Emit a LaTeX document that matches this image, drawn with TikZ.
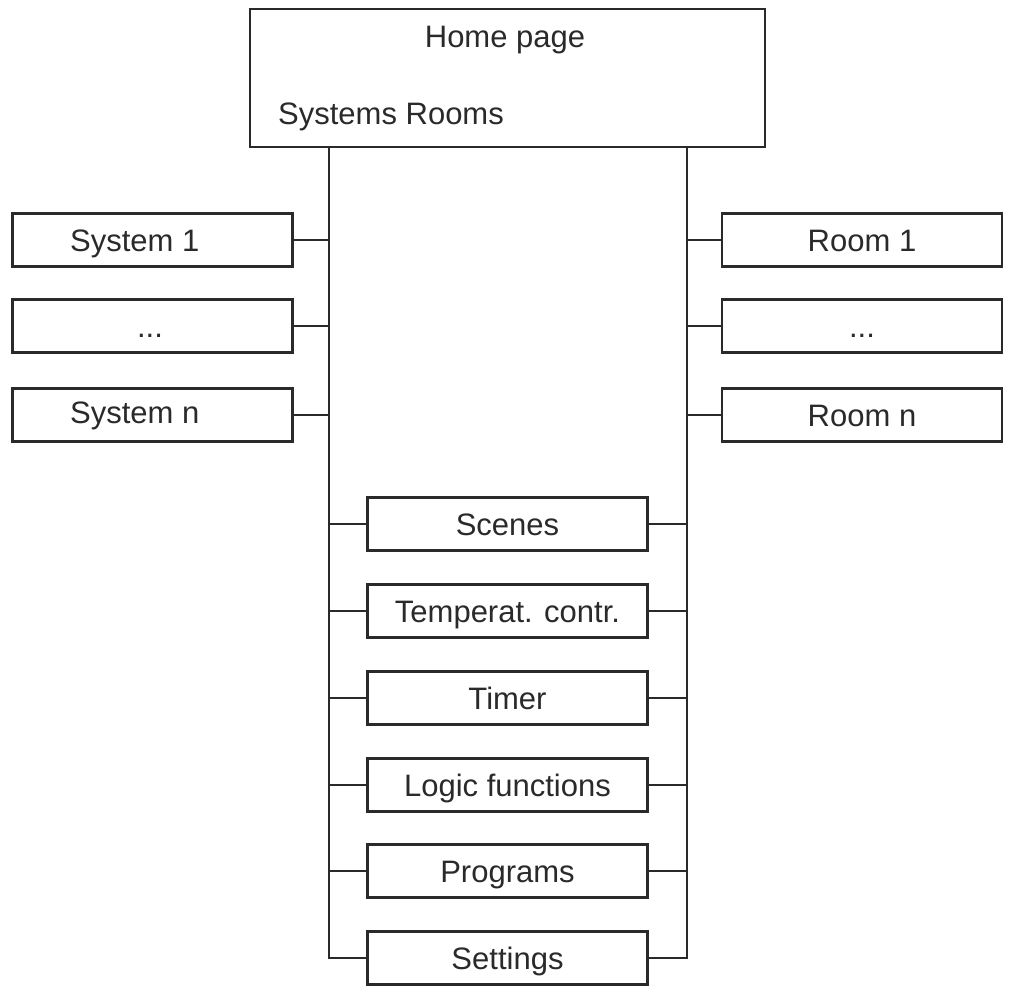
\documentclass[tikz,border=0pt]{standalone}
\usepackage{fontspec}
\setmainfont{Liberation Sans}
\definecolor{ink}{HTML}{2A2A2A}
\begin{document}
\begin{tikzpicture}[x=1pt,y=-1pt,
  lbl/.style={font=\fontsize{31}{33}\selectfont,text=ink,text height=22.2pt,text depth=0pt},
  box/.style={lbl,draw=ink,line width=2.6pt,fill=white,minimum width=280pt,minimum height=53pt,inner sep=0pt},
  txt/.style={lbl,inner sep=0pt},
  wire/.style={draw=ink,line width=2pt}]
\useasboundingbox (0,0) rectangle (1012,990);
% top box
\node[draw=ink,line width=2.6pt,minimum width=515pt,minimum height=138pt,inner sep=0pt] (home) at (507.5,78) {};
\node[txt] (hometxt) at (505,36) {Home page};
\node[txt,anchor=west] (sysrooms) at (278,113) {Systems Rooms};
% buses
\coordinate (ltop) at (329,147);
\coordinate (rtop) at (687,147);
% left boxes
\node[box] (s1) at (152.5,240) {};
\node[txt,anchor=west] (s1t) at (70,240) {System 1};
\node[box] (sd) at (152.5,326) {};
\node[txt] (sdt) at (150,326) {...};
\node[box] (sn) at (152.5,415) {};
\node[txt,anchor=west] (snt) at (70,412) {System n};
% right boxes
\node[box] (r1) at (862,240) {Room 1};
\node[box] (rd) at (862,326) {...};
\node[box] (rn) at (862,415) {Room n};
% center boxes
\node[box] (scn) at (507.5,524) {Scenes};
\node[box] (tmp) at (507.5,611) {Temperat. contr.};
\node[box] (tim) at (507.5,698) {Timer};
\node[box] (log) at (507.5,785) {Logic functions};
\node[box] (prg) at (507.5,871) {Programs};
\node[box] (set) at (507.5,958) {Settings};
% wires
\draw[wire] (ltop) |- (set.west);
\draw[wire] (rtop) |- (set.east);
\foreach \n in {s1,sd,sn} \draw[wire] (\n.east) -- (\n.east -| ltop);
\foreach \n in {r1,rd,rn} \draw[wire] (\n.west) -- (\n.west -| rtop);
\foreach \n in {scn,tmp,tim,log,prg} {
  \draw[wire] (\n.west) -- (\n.west -| ltop);
  \draw[wire] (\n.east) -- (\n.east -| rtop);
}
\end{tikzpicture}
\end{document}
